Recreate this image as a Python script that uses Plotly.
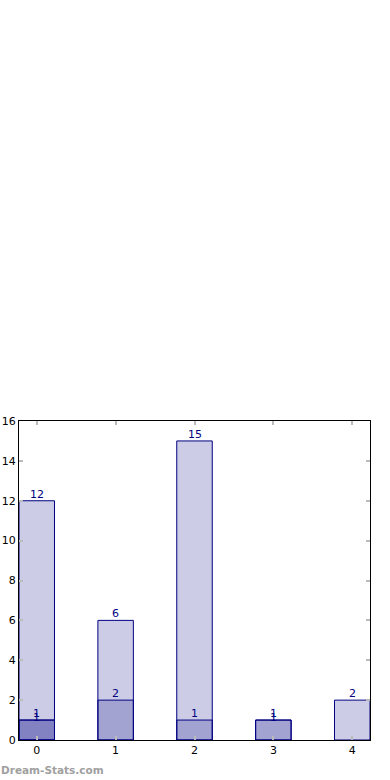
import plotly.graph_objects as go

categories = [0, 1, 2, 3, 4]
series_a = [12, 6, 15, 1, 2]
series_b = [1, 2, 1, 1, 0]
series_c = [1, 0, 0, 0, 0]
y_ticks = [0, 2, 4, 6, 8, 10, 12, 14, 16]

fig = go.Figure()
for vals in (series_a, series_b, series_c):
    xs = [c for c, v in zip(categories, vals) if v > 0]
    ys = [v for v in vals if v > 0]
    fig.add_trace(go.Bar(
        x=xs, y=ys, width=0.45,
        marker=dict(color="rgba(0,0,128,0.2)", line=dict(color="navy", width=1)),
        hoverinfo="skip", showlegend=False,
    ))

annotations = []
seen = {}
for vals in (series_a, series_b, series_c):
    for xi, v in zip(categories, vals):
        if v <= 0:
            continue
        key = (xi, v)
        n = seen.get(key, 0)
        seen[key] = n + 1
        annotations.append(dict(
            x=xi, y=v, xref="x", yref="y", text=str(v), showarrow=False,
            yanchor="bottom", yshift=-2 - 4 * n,
            font=dict(family="DejaVu Sans", size=11, color="navy"),
        ))

annotations.append(dict(
    xref="paper", yref="paper", x=-20 / 351, y=-30 / 319,
    text="<b>Dream-Stats.com</b>", showarrow=False,
    xanchor="left", yanchor="middle",
    font=dict(family="DejaVu Sans", size=10.5, color="#a0a0a0"),
))

fig.update_layout(
    width=390, height=780,
    margin=dict(l=19, r=20, t=421, b=40),
    barmode="overlay",
    plot_bgcolor="white", paper_bgcolor="white",
    annotations=annotations,
    font=dict(family="DejaVu Sans", size=11, color="black"),
)
fig.update_xaxes(
    range=[-0.225, 4.225], tickvals=categories, ticktext=[str(c) for c in categories],
    showline=True, linecolor="black", linewidth=1, mirror="ticks",
    ticks="inside", ticklen=4, tickcolor="#bbbbbb", tickwidth=2,
    showgrid=False, zeroline=False, fixedrange=True, automargin=False,
)
fig.update_yaxes(
    range=[0, 16], tickvals=y_ticks, ticktext=[str(t) for t in y_ticks],
    showline=True, linecolor="black", linewidth=1, mirror="ticks",
    ticks="inside", ticklen=4, tickcolor="#bbbbbb", tickwidth=2,
    showgrid=False, zeroline=False, fixedrange=True, automargin=False,
)

fig.write_html("out.html", config={"displayModeBar": False},
               post_script="document.body.style.margin='0';")
